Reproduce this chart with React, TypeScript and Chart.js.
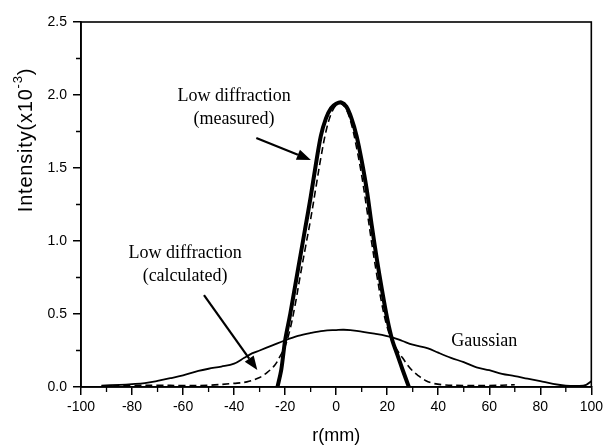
import React, { useEffect, useRef } from "react";
import { Chart, registerables } from "chart.js";

Chart.register(...registerables);

// Gaussian beam profile
const gaussR = [-92, -85, -80, -75, -70, -65, -60, -54, -50, -45, -40, -36, -33, -30, -25, -20, -15, -10, -5, 0, 3, 8, 15, 22, 26, 30, 36, 40, 45, 50, 55, 60, 65, 70, 75, 80, 85, 90, 95, 98, 100];
const gaussI = [0.01, 0.015, 0.02, 0.027, 0.042, 0.06, 0.08, 0.11, 0.125, 0.14, 0.16, 0.2, 0.23, 0.25, 0.285, 0.32, 0.35, 0.37, 0.385, 0.39, 0.392, 0.385, 0.365, 0.34, 0.315, 0.29, 0.265, 0.235, 0.2, 0.17, 0.135, 0.115, 0.09, 0.075, 0.057, 0.04, 0.022, 0.01, 0.008, 0.015, 0.04];

// Low diffraction beam, measured
const measR = [-23, -21.5, -20, -18, -16, -14, -12, -10, -8, -6, -4, -2, 0, 2, 4, 6, 8, 10, 12, 14, 16, 18, 20, 22, 24, 26, 28.5];
const measI = [0, 0.12, 0.32, 0.5, 0.7, 0.9, 1.1, 1.3, 1.52, 1.72, 1.84, 1.91, 1.94, 1.95, 1.92, 1.84, 1.72, 1.55, 1.35, 1.1, 0.87, 0.66, 0.47, 0.32, 0.22, 0.12, 0];

// Low diffraction beam, calculated
const calcR = [-92, -80, -70, -60, -50, -40, -35, -30, -27, -24, -22, -20, -18, -16, -14, -12, -10, -8, -6, -4, -2, 0, 2, 4, 6, 8, 10, 12, 14, 16, 18, 20, 22, 24, 26, 28, 30, 32, 35, 38, 42, 50, 60, 70];
const calcI = [0.005, 0.01, 0.012, 0.01, 0.012, 0.025, 0.035, 0.065, 0.1, 0.15, 0.21, 0.28, 0.4, 0.57, 0.77, 0.96, 1.15, 1.36, 1.57, 1.75, 1.87, 1.93, 1.94, 1.9, 1.8, 1.64, 1.45, 1.22, 0.98, 0.76, 0.56, 0.41, 0.31, 0.25, 0.2, 0.15, 0.11, 0.08, 0.045, 0.025, 0.015, 0.01, 0.01, 0.015];

// Axis ticks
const xTicks = [-100, -80, -60, -40, -20, 0, 20, 40, 60, 80, 100];
const yTicks = [0.0, 0.5, 1.0, 1.5, 2.0, 2.5];
const xMinor = [-90, -70, -50, -30, -10, 10, 30, 50, 70, 90];
const yMinor = [0.25, 0.75, 1.25, 1.75, 2.25];

// Curve labels (data units)
const noteLines = [["Low diffraction", "(measured)"], ["Low diffraction", "(calculated)"], ["Gaussian"]];
const noteX = [-40, -59.2, 58];
const noteY = [1.99, 0.918, 0.31];

// Pointer arrows (data units): start -> tip
const arrowFromX = [-31.3, -51.8];
const arrowFromY = [1.705, 0.63];
const arrowToX = [-9.9, -30.9];
const arrowToY = [1.555, 0.116];

const pts = (xs: number[], ys: number[]) => xs.map((x, i) => ({ x, y: ys[i] }));

const SANS = "'Liberation Sans', Arial, sans-serif";
const SERIF = "'Liberation Serif', 'Times New Roman', serif";

const decorPlugin = {
  id: "decor",
  afterDraw(chart: any) {
    const { ctx, chartArea: a, scales } = chart;
    const xs = scales.x;
    const ys = scales.y;
    ctx.save();
    ctx.strokeStyle = "#000";
    ctx.fillStyle = "#000";

    // frame
    ctx.lineWidth = 1.6;
    ctx.strokeRect(a.left, a.top, a.right - a.left, a.bottom - a.top);

    // minor ticks
    ctx.lineWidth = 1.3;
    ctx.beginPath();
    xMinor.forEach((v) => {
      const px = xs.getPixelForValue(v);
      ctx.moveTo(px, a.bottom);
      ctx.lineTo(px, a.bottom + 5);
    });
    yMinor.forEach((v) => {
      const py = ys.getPixelForValue(v);
      ctx.moveTo(a.left, py);
      ctx.lineTo(a.left - 5, py);
    });
    ctx.stroke();

    // curve labels
    ctx.font = `18px ${SERIF}`;
    ctx.textAlign = "center";
    ctx.textBaseline = "middle";
    noteLines.forEach((lines, i) => {
      const cx = xs.getPixelForValue(noteX[i]);
      const cy = ys.getPixelForValue(noteY[i]);
      lines.forEach((t, j) => ctx.fillText(t, cx, cy + j * 23));
    });

    // arrows
    arrowFromX.forEach((_, i) => {
      const x0 = xs.getPixelForValue(arrowFromX[i]);
      const y0 = ys.getPixelForValue(arrowFromY[i]);
      const x1 = xs.getPixelForValue(arrowToX[i]);
      const y1 = ys.getPixelForValue(arrowToY[i]);
      const ang = Math.atan2(y1 - y0, x1 - x0);
      const head = 14;
      const half = 5.5;
      const bx = x1 - head * Math.cos(ang);
      const by = y1 - head * Math.sin(ang);
      ctx.lineWidth = 2.2;
      ctx.beginPath();
      ctx.moveTo(x0, y0);
      ctx.lineTo(bx, by);
      ctx.stroke();
      ctx.beginPath();
      ctx.moveTo(x1, y1);
      ctx.lineTo(bx - half * Math.sin(ang), by + half * Math.cos(ang));
      ctx.lineTo(bx + half * Math.sin(ang), by - half * Math.cos(ang));
      ctx.closePath();
      ctx.fill();
    });

    // axis titles
    ctx.font = `18px ${SANS}`;
    ctx.textAlign = "center";
    ctx.textBaseline = "middle";
    ctx.fillText("r(mm)", (a.left + a.right) / 2, 436);

    const main = "Intensity(x10";
    const sup = "-3";
    const tail = ")";
    ctx.letterSpacing = "0.8px";
    ctx.font = `20px ${SANS}`;
    const wMain = ctx.measureText(main).width;
    const wTail = ctx.measureText(tail).width;
    ctx.font = `13px ${SANS}`;
    const wSup = ctx.measureText(sup).width;
    const total = wMain + wSup + wTail;
    ctx.translate(26, 140);
    ctx.rotate(-Math.PI / 2);
    ctx.textAlign = "left";
    ctx.textBaseline = "middle";
    let cx = -total / 2;
    ctx.font = `20px ${SANS}`;
    ctx.fillText(main, cx, 0);
    cx += wMain;
    ctx.font = `13px ${SANS}`;
    ctx.fillText(sup, cx, -8);
    cx += wSup;
    ctx.font = `20px ${SANS}`;
    ctx.fillText(tail, cx, 0);
    ctx.letterSpacing = "0px";
    ctx.restore();
  },
};

export default function App() {
  const ref = useRef<HTMLCanvasElement | null>(null);

  useEffect(() => {
    document.body.style.margin = "0";
    const canvas = ref.current;
    if (!canvas) return;
    const chart = new Chart(canvas, {
      type: "line",
      data: {
        datasets: [
          {
            label: "Gaussian",
            data: pts(gaussR, gaussI),
            borderColor: "#000",
            borderWidth: 1.8,
            pointRadius: 0,
            tension: 0.35,
            fill: false,
          },
          {
            label: "Low diffraction (measured)",
            data: pts(measR, measI),
            borderColor: "#000",
            borderWidth: 4,
            pointRadius: 0,
            tension: 0.3,
            fill: false,
          },
          {
            label: "Low diffraction (calculated)",
            data: pts(calcR, calcI),
            borderColor: "#000",
            borderWidth: 1.6,
            borderDash: [7, 4],
            pointRadius: 0,
            tension: 0.35,
            fill: false,
          },
        ],
      },
      options: {
        responsive: false,
        animation: false,
        layout: { padding: { top: 22, right: 11, left: 0, bottom: 0 } },
        plugins: { legend: { display: false }, tooltip: { enabled: false } },
        scales: {
          x: {
            type: "linear",
            min: -100,
            max: 100,
            afterFit: (s: any) => {
              s.height = 61;
            },
            afterBuildTicks: (s: any) => {
              s.ticks = xTicks.map((v) => ({ value: v }));
            },
            border: { color: "#000", width: 1.6 },
            grid: { drawOnChartArea: false, drawTicks: true, tickLength: 8, color: "#000", lineWidth: 1.5 },
            ticks: { color: "#000", font: { family: SANS, size: 14 }, padding: 4, maxRotation: 0, callback: (v: any) => String(v) },
          },
          y: {
            type: "linear",
            min: 0,
            max: 2.5,
            afterFit: (s: any) => {
              s.width = 81;
            },
            afterBuildTicks: (s: any) => {
              s.ticks = yTicks.map((v) => ({ value: v }));
            },
            border: { color: "#000", width: 1.6 },
            grid: { drawOnChartArea: false, drawTicks: true, tickLength: 8, color: "#000", lineWidth: 1.5 },
            ticks: { color: "#000", font: { family: SANS, size: 14 }, padding: 6, callback: (v: any) => Number(v).toFixed(1) },
          },
        },
      },
      plugins: [decorPlugin],
    });
    return () => chart.destroy();
  }, []);

  return (
    <div style={{ width: 607, height: 448, background: "#fff" }}>
      <canvas ref={ref} width={607} height={448} style={{ display: "block" }} />
    </div>
  );
}
